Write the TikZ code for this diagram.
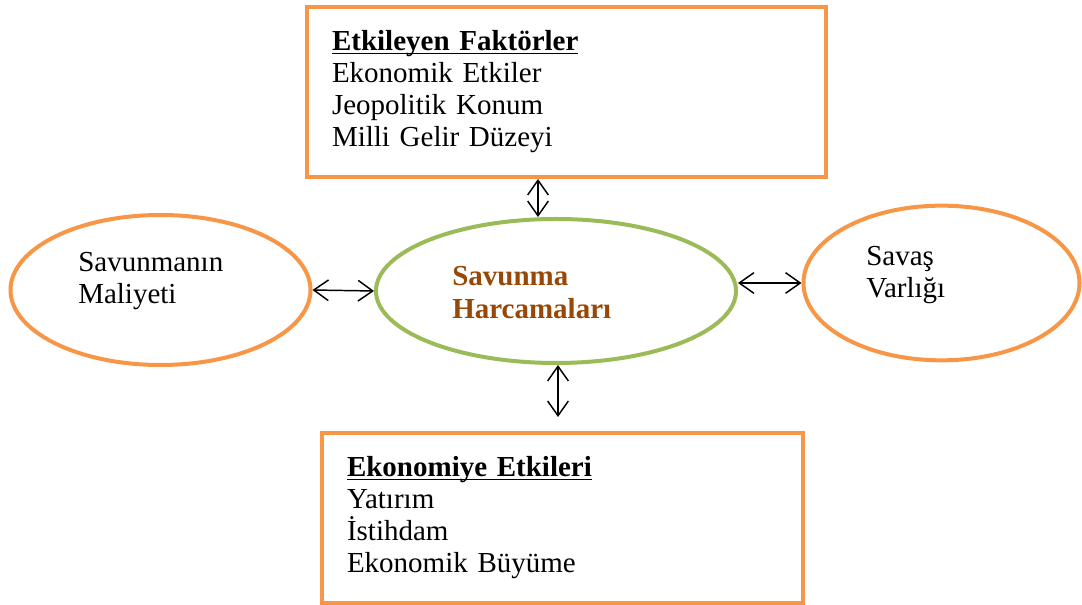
\documentclass[tikz,border=0pt]{standalone}
\usepackage{fontspec}
\setmainfont{Liberation Serif}
\usetikzlibrary{arrows.meta,shapes.geometric}
\definecolor{boxorange}{HTML}{F79646}
\definecolor{ellgreen}{HTML}{9BBB59}
\definecolor{titlebrown}{HTML}{984806}
\newcommand\myul[1]{\setbox0\hbox{#1}\rlap{\rule[-2.6pt]{\wd0}{1.3pt}}\box0}
\tikzset{
  txt/.style={font=\fontsize{21.75}{24}\selectfont, inner sep=0pt, align=left, anchor=west},
  infobox/.style={draw=boxorange, line width=3pt, rectangle, align=left,
    font=\fontsize{21.75}{24}\selectfont, inner xsep=18.75pt, inner ysep=0pt,
    minimum height=127.5pt},
  ovalorange/.style={draw=boxorange, line width=3pt, ellipse, inner sep=0pt},
  ovalgreen/.style={draw=ellgreen, line width=3pt, ellipse, inner sep=0pt},
  biarrow/.style={line width=1.1pt, {Straight Barb[length=11pt,width=15.5pt]}-{Straight Barb[length=11pt,width=15.5pt]}}
}
\begin{document}
\begin{tikzpicture}[x=0.75pt,y=-0.75pt]
\useasboundingbox (0,0) rectangle (1082,605);
% boxes
\node[infobox, text width=351.75pt, minimum width=389.25pt] (top) at (566.5,92)
  {\myul{\textbf{Etkileyen Faktörler}}\\Ekonomik Etkiler\\Jeopolitik Konum\\Milli Gelir Düzeyi};
\node[infobox, text width=323.25pt, minimum width=360.75pt] (bottom) at (562.5,518)
  {\myul{\textbf{Ekonomiye Etkileri}}\\Yatırım\\İstihdam\\Ekonomik Büyüme};
% ellipses
\node[ovalgreen, minimum width=270pt, minimum height=108pt] (center) at (556,291) {};
\node[ovalorange, minimum width=225pt, minimum height=112.5pt] (left) at (160.5,290) {};
\node[ovalorange, minimum width=207pt, minimum height=116pt] (right) at (941.5,283) {};
% texts
\node[txt, font=\fontsize{21.75}{24.75}\selectfont\bfseries, text=titlebrown] (ctext) at (452,293) {Savunma\\Harcamaları};
\node[txt] (ltext) at (78,281) {Savunmanın\\Maliyeti};
\node[txt] (rtext) at (866,275) {Savaş\\Varlığı};
% connectors
\coordinate (tx) at (538,0);
\coordinate (bx) at (558,0);
\coordinate (bend) at (558,417);
\draw[biarrow] (tx |- top.south) -- (tx |- center.north);
\draw[biarrow] (bx |- center.south) -- (bend);
\draw[biarrow] (left.east) -- (center.west);
\draw[biarrow] (center.east |- right.west) -- (right.west);
\end{tikzpicture}
\end{document}
